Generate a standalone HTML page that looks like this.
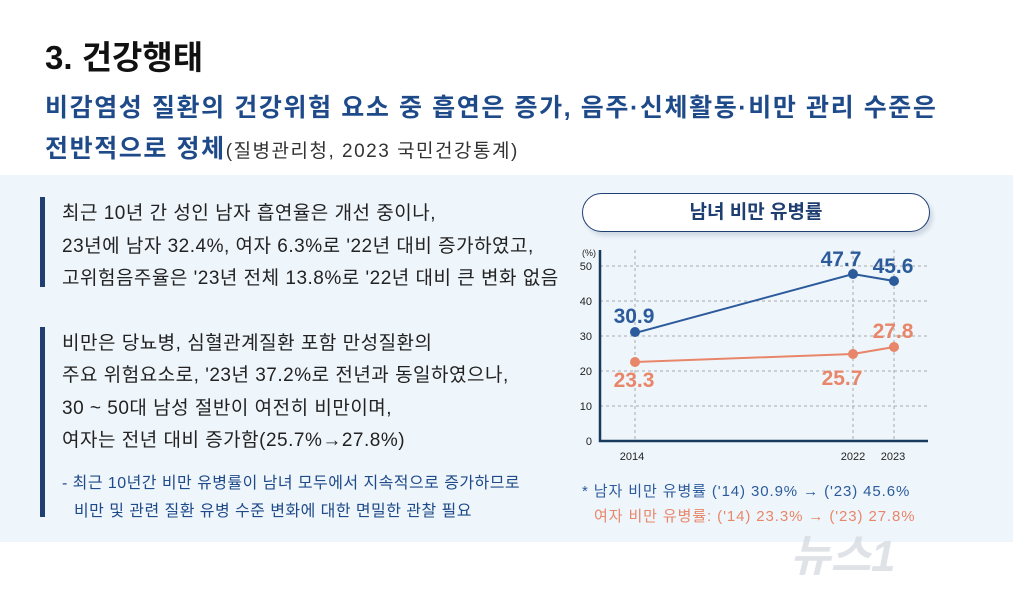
<!DOCTYPE html>
<html><head><meta charset="utf-8"><style>
body{margin:0;width:1013px;height:605px;background:#fff;position:relative;overflow:hidden;font-family:"Liberation Sans","Noto Sans CJK KR",sans-serif;}
.a{position:absolute;white-space:nowrap;}
.panel{position:absolute;left:0;top:175px;width:1013px;height:367px;background:#eff6fb;}
.bar{position:absolute;left:40px;width:5px;background:#1f3f72;}
.t{font-size:19px;letter-spacing:0.5px;color:#222;}
</style></head><body>
<div class="a" style="left:45px;top:31px;font-size:33px;font-weight:bold;color:#111;">3. 건강행태</div>
<div class="a" style="left:45px;top:88px;font-size:25px;letter-spacing:1.6px;font-weight:bold;color:#1f4a8a;">비감염성 질환의 건강위험 요소 중 흡연은 증가, 음주·신체활동·비만 관리 수준은</div>
<div class="a" style="left:45px;top:129px;font-size:25px;letter-spacing:1.6px;font-weight:bold;color:#1f4a8a;">전반적으로 정체<span style="font-size:19px;letter-spacing:1.5px;font-weight:normal;color:#333;">(질병관리청, 2023 국민건강통계)</span></div>
<div class="panel"></div>
<div class="bar" style="top:197px;height:90px;"></div>
<div class="bar" style="top:327px;height:190px;"></div>
<div class="a t" style="left:62px;top:198px;">최근 10년 간 성인 남자 흡연율은 개선 중이나,</div>
<div class="a t" style="left:62px;top:231px;">23년에 남자 32.4%, 여자 6.3%로 '22년 대비 증가하였고,</div>
<div class="a t" style="left:62px;top:263px;">고위험음주율은 '23년 전체 13.8%로 '22년 대비 큰 변화 없음</div>
<div class="a t" style="left:62px;top:328px;">비만은 당뇨병, 심혈관계질환 포함 만성질환의</div>
<div class="a t" style="left:62px;top:360px;">주요 위험요소로, '23년 37.2%로 전년과 동일하였으나,</div>
<div class="a t" style="left:62px;top:393px;">30 ~ 50대 남성 절반이 여전히 비만이며,</div>
<div class="a t" style="left:62px;top:425px;">여자는 전년 대비 증가함(25.7%→27.8%)</div>
<div class="a" style="left:62px;top:469px;font-size:16px;letter-spacing:0.45px;color:#1f4a8a;">- 최근 10년간 비만 유병률이 남녀 모두에서 지속적으로 증가하므로</div>
<div class="a" style="left:74px;top:497px;font-size:16px;letter-spacing:0.45px;color:#1f4a8a;">비만 및 관련 질환 유병 수준 변화에 대한 면밀한 관찰 필요</div>
<div class="a" style="left:582px;top:193px;width:346px;height:37px;border:1.5px solid #1f3f72;border-radius:20px;background:#fff;box-shadow:3px 4px 4px #cfd8e3;text-align:center;line-height:37px;font-size:19px;font-weight:bold;color:#1f3f72;">남녀 비만 유병률</div>
<svg class="a" style="left:0;top:0" width="1013" height="605">
<g stroke="#aaa" stroke-dasharray="3,3" stroke-width="1">
<line x1="600" x2="928" y1="266" y2="266"/><line x1="600" x2="928" y1="301" y2="301"/><line x1="600" x2="928" y1="336" y2="336"/><line x1="600" x2="928" y1="371" y2="371"/><line x1="600" x2="928" y1="406" y2="406"/>
<line x1="635" x2="635" y1="250" y2="441"/><line x1="853" x2="853" y1="250" y2="441"/><line x1="894" x2="894" y1="250" y2="441"/>
</g>
<polyline points="600,250 600,441 928,441" fill="none" stroke="#173a5e" stroke-width="2.5"/>
<g font-size="11" fill="#222" text-anchor="end"><text x="592" y="270">50</text><text x="592" y="305">40</text><text x="592" y="340">30</text><text x="592" y="375">20</text><text x="592" y="410">10</text><text x="592" y="445">0</text><text x="596" y="256" font-size="9">(%)</text></g>
<g font-size="11" fill="#222" text-anchor="middle"><text x="632" y="460">2014</text><text x="853" y="460">2022</text><text x="893" y="460">2023</text></g>
<polyline points="635,333 853,274 894,281" fill="none" stroke="#2c5b9c" stroke-width="2"/>
<polyline points="635,362 853,354 894,347" fill="none" stroke="#e8866a" stroke-width="2"/>
<g fill="#2c5b9c"><circle cx="635" cy="332" r="5"/><circle cx="853" cy="274" r="5"/><circle cx="894" cy="281" r="5"/></g>
<g fill="#e8866a"><circle cx="635" cy="362" r="5"/><circle cx="853" cy="354" r="5"/><circle cx="894" cy="347" r="5"/></g>
<g font-size="21" font-weight="bold" text-anchor="middle">
<text x="634" y="323" fill="#2c5b9c">30.9</text><text x="841" y="266" fill="#2c5b9c">47.7</text><text x="893" y="273" fill="#2c5b9c">45.6</text>
<text x="634" y="387" fill="#e8866a">23.3</text><text x="842" y="385" fill="#e8866a">25.7</text><text x="893" y="338" fill="#e8866a">27.8</text>
</g>
</svg>
<div class="a" style="left:582px;top:480px;font-size:15px;letter-spacing:0.9px;color:#2c5b9c;">* 남자 비만 유병률 ('14) 30.9% → ('23) 45.6%</div>
<div class="a" style="left:594px;top:505px;font-size:15px;letter-spacing:0.9px;color:#e8866a;">여자 비만 유병률: ('14) 23.3% → ('23) 27.8%</div>
<div class="a" style="left:790px;top:520px;font-size:44px;font-weight:bold;color:rgba(210,215,222,0.7);font-style:italic;">뉴스1</div>
</body></html>
